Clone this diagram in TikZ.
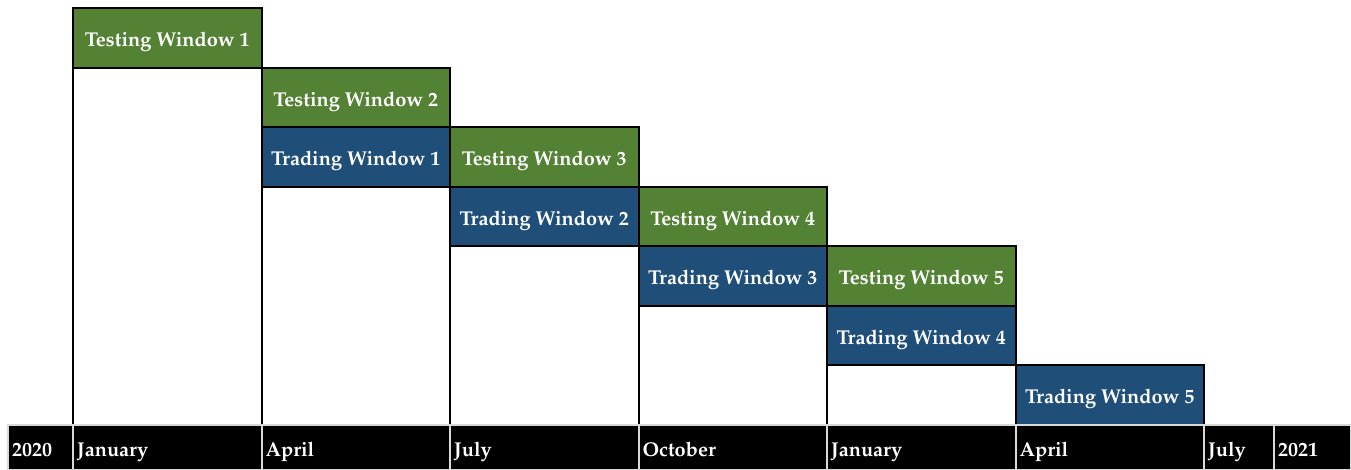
\documentclass[tikz,border=0pt]{standalone}
\usepackage[T1]{fontenc}
\usepackage{mathpazo}
\usepackage{tikz}
\usetikzlibrary{positioning, calc}
\definecolor{cTest}{RGB}{84,130,53}
\definecolor{cTrade}{RGB}{31,78,121}
\definecolor{cGrid}{RGB}{217,217,217}

\tikzset{
    window/.style={rectangle, draw=black, line width=1pt, text=white, font=\bfseries,
        minimum width=94.25pt, minimum height=29.75pt, inner sep=0pt, outer sep=0pt,
        text height=9.4pt, text depth=1pt},
    testwin/.style={window, fill=cTest},
    tradewin/.style={window, fill=cTrade},
    monthcell/.style={rectangle, fill=black, draw=cGrid, line width=1pt, text=white, font=\bfseries,
        anchor=north west, minimum height=22.5pt, inner xsep=2pt, inner ysep=0pt, outer sep=0pt,
        text width=#1, align=left, text height=11pt, text depth=1.5pt}
}

\begin{document}
\begin{tikzpicture}[x=0.5pt, y=-0.5pt, node distance=29.75pt and 94.25pt, on grid]
    \useasboundingbox (0,0) rectangle (1351,470);
    \coordinate (bartop) at (0,425);

    % testing / trading windows
    \node[testwin] (tw1) at (167.25,38.25) {Testing Window 1};
    \node[testwin] (tw2) [below right=of tw1] {Testing Window 2};
    \node[tradewin] (tr1) [below=of tw2] {Trading Window 1};
    \node[testwin] (tw3) [right=of tr1] {Testing Window 3};
    \node[tradewin] (tr2) [below=of tw3] {Trading Window 2};
    \node[testwin] (tw4) [right=of tr2] {Testing Window 4};
    \node[tradewin] (tr3) [below=of tw4] {Trading Window 3};
    \node[testwin] (tw5) [right=of tr3] {Testing Window 5};
    \node[tradewin] (tr4) [below=of tw5] {Trading Window 4};
    \node[tradewin] (tr5) [below right=of tr4] {Trading Window 5};

    % empty part of each column
    \draw[line width=1pt] (tw1.south west) rectangle (tw1.south east |- bartop);
    \draw[line width=1pt] (tr1.south west) rectangle (tr1.south east |- bartop);
    \draw[line width=1pt] (tr2.south west) rectangle (tr2.south east |- bartop);
    \draw[line width=1pt] (tr3.south west) rectangle (tr3.south east |- bartop);
    \draw[line width=1pt] (tr4.south west) rectangle (tr4.south east |- bartop);

    % time axis
    \node[monthcell=28.5pt] (y2020) at (8,425) {2020};
    \node[monthcell=90.25pt] (jan1) at (73,425) {January};
    \node[monthcell=90.25pt] (apr1) at (261.5,425) {April};
    \node[monthcell=90.25pt] (jul1) at (450,425) {July};
    \node[monthcell=90.25pt] (oct1) at (638.5,425) {October};
    \node[monthcell=90.25pt] (jan2) at (827,425) {January};
    \node[monthcell=90.25pt] (apr2) at (1015.5,425) {April};
    \node[monthcell=31pt] (jul2) at (1204,425) {July};
    \node[monthcell=34.5pt] (y2021) at (1274,425) {2021};
\end{tikzpicture}
\end{document}
